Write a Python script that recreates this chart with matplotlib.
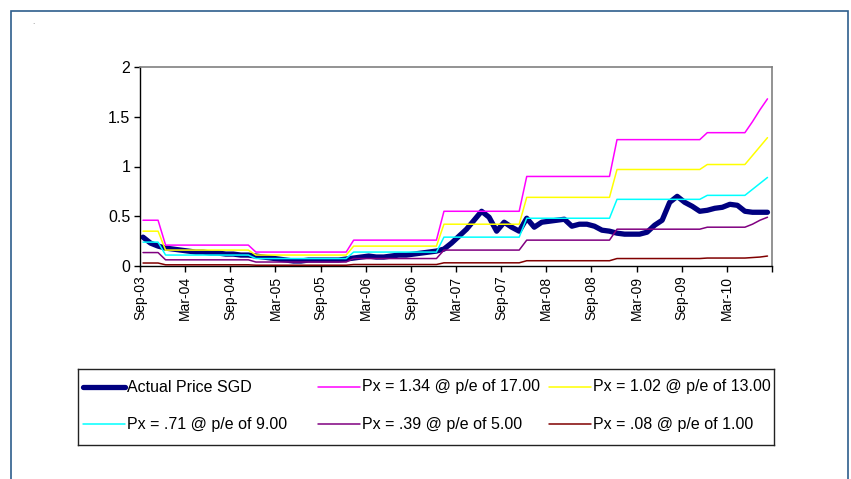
import matplotlib
matplotlib.use("Agg")
import matplotlib.pyplot as plt
from matplotlib import font_manager
from matplotlib.lines import Line2D
from matplotlib.patches import Rectangle

# ---- data (monthly, Sep-03 onwards) ----
months = list(range(84))
actual_price = [0.29, 0.23, 0.20, 0.18, 0.17, 0.16, 0.15, 0.14, 0.14, 0.13,
                0.13, 0.12, 0.12, 0.11, 0.11, 0.10, 0.09, 0.08, 0.07, 0.06,
                0.05, 0.05, 0.06, 0.06, 0.06, 0.06, 0.06, 0.07, 0.08, 0.09,
                0.10, 0.09, 0.09, 0.10, 0.11, 0.11, 0.12, 0.13, 0.14, 0.15,
                0.17, 0.23, 0.30, 0.37, 0.46, 0.55, 0.49, 0.35, 0.44, 0.39,
                0.35, 0.48, 0.39, 0.44, 0.45, 0.46, 0.47, 0.40, 0.42, 0.42,
                0.40, 0.36, 0.35, 0.33, 0.32, 0.32, 0.32, 0.34, 0.41, 0.46,
                0.64, 0.70, 0.64, 0.60, 0.55, 0.56, 0.58, 0.59, 0.62, 0.61,
                0.55, 0.54, 0.54, 0.54]
px_pe17 = ([0.46] * 3 + [0.21] * 12 + [0.14] * 13 + [0.26] * 12 + [0.55] * 11
           + [0.90] * 12 + [1.27] * 12 + [1.34] * 6 + [1.45, 1.57, 1.68])
px_pe13 = ([0.35] * 3 + [0.16] * 12 + [0.11] * 13 + [0.20] * 12 + [0.42] * 11
           + [0.69] * 12 + [0.97] * 12 + [1.02] * 6 + [1.11, 1.20, 1.29])
px_pe9 = ([0.24] * 3 + [0.11] * 12 + [0.075] * 13 + [0.14] * 12 + [0.29] * 11
          + [0.48] * 12 + [0.67] * 12 + [0.71] * 6 + [0.77, 0.83, 0.89])
px_pe5 = ([0.135] * 3 + [0.062] * 12 + [0.04] * 13 + [0.075] * 12 + [0.16] * 11
          + [0.26] * 12 + [0.37] * 12 + [0.39] * 6 + [0.42, 0.46, 0.49])
px_pe1 = ([0.03] * 3 + [0.012] * 12 + [0.008] * 13 + [0.015] * 12 + [0.032] * 11
          + [0.053] * 12 + [0.075] * 12 + [0.08] * 6 + [0.085, 0.09, 0.10])

series_labels = ["Actual Price SGD",
                 "Px = 1.34 @ p/e of 17.00",
                 "Px = 1.02 @ p/e of 13.00",
                 "Px = .71 @ p/e of 9.00",
                 "Px = .39 @ p/e of 5.00",
                 "Px = .08 @ p/e of 1.00"]
tick_months = list(range(0, 85, 6))
tick_labels = ["Sep-03", "Mar-04", "Sep-04", "Mar-05", "Sep-05", "Mar-06",
               "Sep-06", "Mar-07", "Sep-07", "Mar-08", "Sep-08", "Mar-09",
               "Sep-09", "Mar-10", ""]
y_ticks = [0, 0.5, 1, 1.5, 2]
y_tick_labels = ["0", "0.5", "1", "1.5", "2"]

# ---- styling ----
names = {f.name for f in font_manager.fontManager.ttflist}
FONT = "Liberation Sans" if "Liberation Sans" in names else "DejaVu Sans"
plt.rcParams["font.family"] = [FONT, "DejaVu Sans"]
if "Liberation Sans Narrow" in names:
    NARROW = ["Liberation Sans Narrow", "DejaVu Sans"]
    legend_size, xlabel_size = 13.5, 12
else:
    NARROW = [FONT, "DejaVu Sans"]
    legend_size, xlabel_size = 11.5, 10

colors = ["#000080", "#FF00FF", "#FFFF00", "#00FFFF", "#800080", "#800000"]
widths = [3.8, 1.1, 1.1, 1.1, 1.1, 1.1]

W, H = 851, 479
fig = plt.figure(figsize=(W / 100, H / 100), dpi=100)
fig.patch.set_facecolor("white")

def fx(px):
    return px / W

def fy(py):
    return 1 - py / H

# outer chart border
fig.add_artist(Rectangle((fx(11), -0.05), fx(848) - fx(11), fy(11) + 0.05,
                         transform=fig.transFigure, fill=False,
                         edgecolor="#2E5E8C", linewidth=1.2))
fig.text(fx(33), fy(22), ".", fontsize=6, color="#777777", ha="center", va="center")

ax = fig.add_axes([fx(140), fy(266), fx(772) - fx(140), fy(67) - fy(266)])

xs = [m + 0.4 for m in months]
all_series = [actual_price, px_pe17, px_pe13, px_pe9, px_pe5, px_pe1]
for i, (vals, c, lw, lab) in enumerate(zip(all_series, colors, widths, series_labels)):
    ax.plot(xs, vals, color=c, linewidth=lw, label=lab,
            solid_joinstyle="round", solid_capstyle="round", zorder=2 + i)

ax.set_xlim(0, 84)
ax.set_ylim(0, 2)
ax.set_xticks(tick_months)
ax.set_xticklabels(tick_labels, rotation=90, fontsize=xlabel_size, family=NARROW)
ax.set_yticks(y_ticks)
ax.set_yticklabels(y_tick_labels, fontsize=11.5)
ax.tick_params(axis="both", direction="out", length=4, width=1, color="black", pad=3)

for side in ("top", "right"):
    ax.spines[side].set_color("#808080")
    ax.spines[side].set_linewidth(1.2)
for side in ("left", "bottom"):
    ax.spines[side].set_color("black")
    ax.spines[side].set_linewidth(1.0)

# legend box laid out as two rows of three evenly spaced entries
lax = fig.add_axes([fx(78), fy(445), fx(774) - fx(78), fy(369) - fy(445)])
lax.set_xlim(78, 774)
lax.set_ylim(445, 369)
lax.set_xticks([])
lax.set_yticks([])
for s in lax.spines.values():
    s.set_color("#222222")
    s.set_linewidth(1.0)
col_x = [83, 318, 549]
row_y = [387, 424]
order = [(0, 0), (0, 1), (0, 2), (1, 0), (1, 1), (1, 2)]
for (r, c), col, lw, lab in zip(order, colors, widths, series_labels):
    x0 = col_x[c]
    lax.add_line(Line2D([x0, x0 + 42], [row_y[r], row_y[r]], color=col,
                        linewidth=lw, solid_capstyle="round"))
    lax.text(x0 + 44, row_y[r], lab, fontsize=legend_size, family=NARROW,
             ha="left", va="center")

fig.savefig("out.png", dpi=100, facecolor="white")
